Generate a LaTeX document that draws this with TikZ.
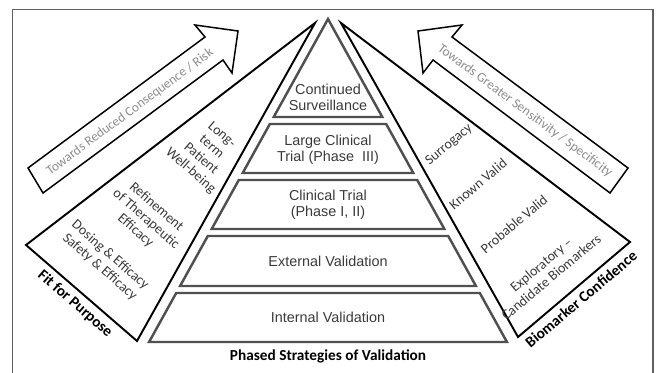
\documentclass[tikz,border=0pt]{standalone}
\usepackage{fontspec}
\setmainfont{Carlito}
\newfontfamily\arialfont{Liberation Sans}
\usepackage{tikz}
\usetikzlibrary{calc}
\definecolor{pyrgray}{HTML}{505050}
\definecolor{txtgray}{HTML}{3A3A3A}
\definecolor{arrowgray}{HTML}{8C8C8C}
\definecolor{framegray}{HTML}{606060}
\newcommand{\pyrwidth}{1.4pt}
\newcommand{\wedgewidth}{1.1pt}
\newcommand{\slope}{0.554}
\newcommand{\apexy}{19}

\begin{document}
\begin{tikzpicture}[x=0.02cm,y=-0.02cm,
  band/.style={draw=pyrgray, line width=\pyrwidth, line join=miter},
  wedge/.style={draw=black, line width=\wedgewidth, line join=miter},
  bigarrow/.style={draw=black, line width=0.85pt, line join=miter},
  pyrtext/.style={font=\arialfont\fontsize{8.2}{9.2}\selectfont, text=txtgray, align=center},
  wedgetext/.style={font=\fontsize{8}{9}\selectfont, text=txtgray, align=center, inner sep=0pt},
  arrowtext/.style={font=\fontsize{7.6}{9}\selectfont, text=arrowgray, inner sep=0pt},
  boldlabel/.style={font=\bfseries\fontsize{8.7}{10}\selectfont, text=black, inner sep=0pt}]
\useasboundingbox (0,0) rectangle (658,372);
%frame
\draw[framegray, line width=0.6pt] (12.5,380) -- (12.5,9.5) -- (653,9.5) -- (653,380);
%pyramid
\coordinate (apex) at (328,\apexy);
\draw[band] (apex) -- ({328+\slope*(117-\apexy)},117) -- ({328-\slope*(117-\apexy)},117) -- cycle;
\foreach \t/\b in {124/173,180/229,236/286,293/342}
  \draw[band] ({328-\slope*(\t-\apexy)},\t) -- ({328+\slope*(\t-\apexy)},\t)
    -- ({328+\slope*(\b-\apexy)},\b) -- ({328-\slope*(\b-\apexy)},\b) -- cycle;
\node[pyrtext] (surv) at (328,97) {Continued\\Surveillance};
\node[pyrtext] (large) at (328,150) {Large Clinical\\Trial (Phase~ III)};
\node[pyrtext] (clin) at (328,205) {Clinical Trial\\(Phase I, II)};
\node[pyrtext] (ext) at (328,261) {External Validation};
\node[pyrtext] (int) at (328,317) {Internal Validation};
\node[boldlabel] (phased) at (328,356) {Phased Strategies of Validation};
%left wedge
\coordinate (fa) at (315,23);
\coordinate (fl) at (26,245);
\coordinate (fb) at (137,341);
\draw[wedge] (fa) -- (fl) -- (fb) -- cycle;
\node[wedgetext, rotate=-41] (wellbeing) at (206,153) {Long-\\term\\Patient\\Well-being};
\node[wedgetext, rotate=-41] (refine) at (146,219) {Refinement\\of Therapeutic\\Efficacy};
\node[wedgetext, rotate=-41] (dosing) at (105,261) {Dosing \& Efficacy\\Safety \& Efficacy};
\node[boldlabel, rotate=-41] (fit) at (75,304) {Fit for Purpose};
%right wedge
\coordinate (ba) at (341,23);
\coordinate (br) at (630,242);
\coordinate (bb) at (518,337);
\draw[wedge] (ba) -- (br) -- (bb) -- cycle;
\node[wedgetext, rotate=40] (surrogacy) at (449,145) {Surrogacy};
\node[wedgetext, rotate=40] (known) at (478,184) {Known Valid};
\node[wedgetext, rotate=40] (probable) at (514,224) {Probable Valid};
\node[wedgetext, rotate=40] (explor) at (546,271) {Exploratory --\\Candidate Biomarkers};
\node[boldlabel, rotate=40] (conf) at (581,299) {Biomarker Confidence};
%arrows
\draw[bigarrow] (28,168) -- (205,37) -- (195,25) -- (238,31) -- (232,73) -- (223,60) -- (43,193) -- cycle;
\node[arrowtext, rotate=36.5] (risk) at (130,112) {Towards Reduced Consequence / Risk};
\draw[bigarrow] (628,168) -- (452,37) -- (462,25) -- (418,31) -- (423,73) -- (433,60) -- (610,193) -- cycle;
\node[arrowtext, rotate=-36.5] (sens) at (525,111) {Towards Greater Sensitivity / Specificity};
\end{tikzpicture}
\end{document}
